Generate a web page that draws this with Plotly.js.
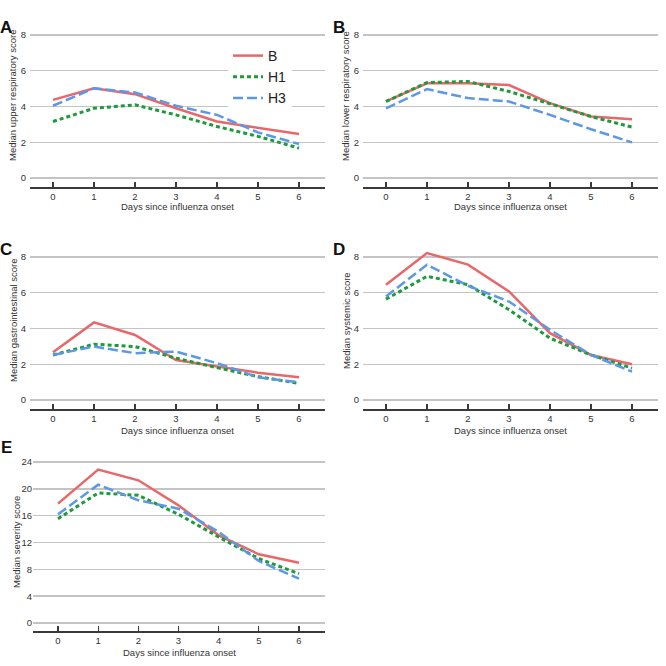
<!DOCTYPE html>
<html><head><meta charset="utf-8">
<script src="https://cdn.plot.ly/plotly-3.0.1.min.js"></script>
<style>html,body{margin:0;padding:0;background:#fff}#chart{width:666px;height:666px}</style>
</head><body><div id="chart"></div>
<script>
// ---- data ----
const days = [0, 1, 2, 3, 4, 5, 6];
const dayLabels = ['0', '1', '2', '3', '4', '5', '6'];
const seriesNames = ['B', 'H1', 'H3'];

const upperB  = [4.37, 5.02, 4.69, 3.90, 3.16, 2.79, 2.46];
const upperH1 = [3.16, 3.90, 4.09, 3.53, 2.88, 2.33, 1.67];
const upperH3 = [4.04, 5.02, 4.78, 4.04, 3.53, 2.55, 1.90];

const lowerB  = [4.28, 5.30, 5.30, 5.20, 4.19, 3.44, 3.29];
const lowerH1 = [4.28, 5.34, 5.40, 4.84, 4.15, 3.44, 2.85];
const lowerH3 = [3.90, 4.97, 4.47, 4.28, 3.53, 2.73, 1.99];

const giB  = [2.67, 4.34, 3.64, 2.24, 1.87, 1.53, 1.27];
const giH1 = [2.52, 3.12, 2.99, 2.34, 1.81, 1.31, 0.93];
const giH3 = [2.52, 2.99, 2.62, 2.71, 2.06, 1.27, 0.99];

const sysB  = [6.45, 8.22, 7.57, 6.07, 3.74, 2.52, 2.00];
const sysH1 = [5.64, 6.92, 6.45, 5.05, 3.46, 2.52, 1.78];
const sysH3 = [5.79, 7.57, 6.39, 5.51, 3.93, 2.52, 1.59];

const sevB  = [17.80, 22.86, 21.27, 17.54, 13.07, 10.24, 8.99];
const sevH1 = [15.55, 19.38, 19.03, 16.20, 12.82, 9.59, 7.35];
const sevH3 = [16.20, 20.62, 18.29, 17.04, 13.57, 9.24, 6.60];

const panelLetters = ['A', 'B', 'C', 'D', 'E'];
const yTitles = ['Median upper respiratory score', 'Median lower respiratory score',
                 'Median gastrointestinal score', 'Median systemic score', 'Median severity score'];
const xTitle = 'Days since influenza onset';
const yTicksScore = [0, 2, 4, 6, 8];
const yTicksSeverity = [0, 4, 8, 12, 16, 20, 24];

// ---- layout / styling ----
const W = 666, H = 666;
const FONT = 'Liberation Sans, Arial, sans-serif';
const colors = ['#E8686A', '#1E9A3C', '#5C98E6'];
const dashes = ['solid', '4px,3px', '10px,4px'];
const widths = [2.5, 3, 2.5];

const panelData = [
  [upperB, upperH1, upperH3],
  [lowerB, lowerH1, lowerH3],
  [giB, giH1, giH3],
  [sysB, sysH1, sysH3],
  [sevB, sevH1, sevH3]
];
// pixel boxes: left, right, top, bottom; ranges
const boxes = [
  {l: 30,  r: 325, t: 28,  b: 187, xr: [-0.561, 6.634], yr: [-0.503, 8.39], ticks: yTicksScore, yt: 96,  xt: 207, lx: 6,   ly: 27, so: 3},
  {l: 363, r: 658, t: 28,  b: 187, xr: [-0.561, 6.634], yr: [-0.503, 8.39], ticks: yTicksScore, yt: 96,  xt: 207, lx: 339, ly: 27, so: 3},
  {l: 30,  r: 325, t: 250, b: 409, xr: [-0.561, 6.634], yr: [-0.503, 8.39], ticks: yTicksScore, yt: 320, xt: 430, lx: 6,   ly: 250, so: 3},
  {l: 363, r: 658, t: 250, b: 409, xr: [-0.561, 6.634], yr: [-0.503, 8.39], ticks: yTicksScore, yt: 320, xt: 430, lx: 339, ly: 250, so: 3},
  {l: 33,  r: 325, t: 455, b: 631, xr: [-0.622, 6.647], yr: [-1.19, 25.04], ticks: yTicksSeverity, yt: 542, xt: 652, lx: 6, ly: 447, so: 0}
];

const traces = [];
const layout = {
  width: W, height: H,
  margin: {l: 0, r: 0, t: 0, b: 0},
  paper_bgcolor: '#fff', plot_bgcolor: '#fff',
  font: {family: FONT, color: '#333', size: 10},
  showlegend: true,
  legend: {
    x: 228 / W, y: 1 - 40 / H, xanchor: 'left', yanchor: 'top',
    bgcolor: '#fff', borderwidth: 0,
    font: {family: FONT, size: 14, color: '#222'},
    tracegroupgap: 0
  },
  annotations: [],
  shapes: []
};

boxes.forEach((bx, i) => {
  const n = i === 0 ? '' : String(i + 1);
  const xa = 'x' + n, ya = 'y' + n;
  panelData[i].forEach((vals, s) => {
    traces.push({
      type: 'scatter', mode: 'lines',
      x: days, y: vals, xaxis: xa, yaxis: ya,
      name: seriesNames[s],
      showlegend: i === 0,
      line: {color: colors[s], width: widths[s], dash: dashes[s]},
      hoverinfo: 'x+y+name'
    });
  });
  layout['xaxis' + n] = {
    domain: [bx.l / W, bx.r / W], anchor: ya, range: bx.xr,
    tickmode: 'array', tickvals: days, ticktext: dayLabels,
    showgrid: false, zeroline: false,
    showline: true, linecolor: '#3a3a3a', linewidth: 1.5,
    ticks: 'inside', ticklen: 5, tickwidth: 1.3, tickcolor: '#3a3a3a',
    tickfont: {family: FONT, size: 9.5, color: '#333'},
    fixedrange: true
  };
  layout['yaxis' + n] = {
    domain: [1 - bx.b / H, 1 - bx.t / H], anchor: xa, range: bx.yr,
    tickmode: 'array', tickvals: bx.ticks,
    showgrid: true, gridcolor: '#c4c4c4', gridwidth: 1.5,
    zeroline: false, showline: false, ticks: '',
    ticklabelstandoff: bx.so,
    tickfont: {family: FONT, size: 9.5, color: '#333'},
    fixedrange: true
  };
  layout.annotations.push({
    xref: 'paper', yref: 'paper', x: (bx.l - 17) / W, y: 1 - bx.yt / H,
    text: yTitles[i], showarrow: false, textangle: -90,
    xanchor: 'center', yanchor: 'middle',
    font: {family: FONT, size: 9.5, color: '#333'}
  });
  layout.annotations.push({
    xref: 'paper', yref: 'paper', x: ((bx.l + bx.r) / 2) / W, y: 1 - bx.xt / H,
    text: xTitle, showarrow: false,
    xanchor: 'center', yanchor: 'middle',
    font: {family: FONT, size: 9.5, color: '#333'}
  });
  layout.annotations.push({
    xref: 'paper', yref: 'paper', x: bx.lx / W, y: 1 - bx.ly / H,
    text: '<b>' + panelLetters[i] + '</b>', showarrow: false,
    xanchor: 'center', yanchor: 'middle',
    font: {family: FONT, size: 17, color: '#111'}
  });
});

Plotly.newPlot('chart', traces, layout, {displayModeBar: false, staticPlot: true});
</script>
</body></html>
